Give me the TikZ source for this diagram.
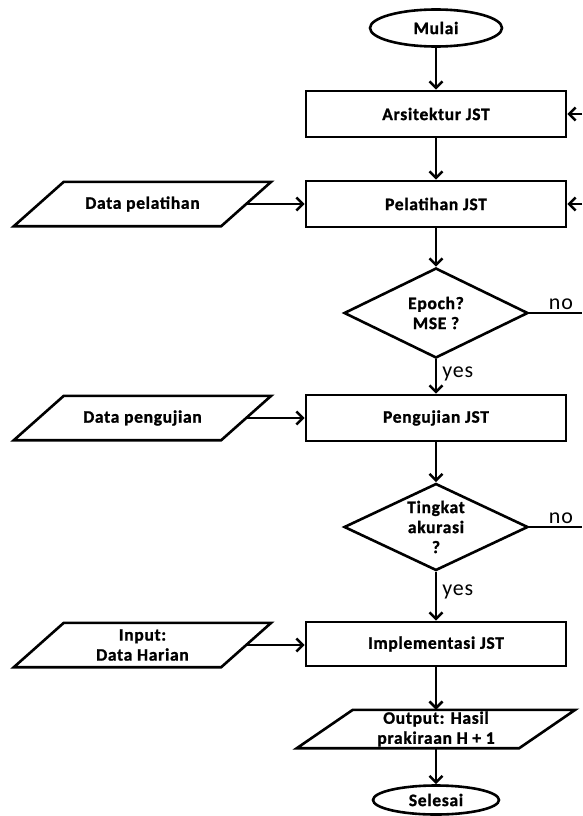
\documentclass[tikz,border=0pt]{standalone}
\usepackage{fontspec}
\setmainfont{Carlito}[LetterSpace=4, BoldFeatures={FakeBold=1.2}]
\usetikzlibrary{arrows.meta,shapes.geometric}
\begin{document}
\begin{tikzpicture}[x=1pt,y=-1pt,
  every node/.style={font=\bfseries\fontsize{17.5}{20}\selectfont, inner sep=0pt, align=center},
  line/.style={line width=2.6pt},
  arr/.style={line width=2.6pt,-{Straight Barb[length=6.5pt,width=13pt]}},
  proc/.style={draw, line width=2.6pt, rectangle, minimum width=260pt, minimum height=46pt},
  term/.style={draw, line width=2.6pt, ellipse, minimum width=132pt, minimum height=37pt},
  dec/.style={draw, line width=2.6pt, diamond, minimum width=184pt, minimum height=90pt},
  io/.style={rectangle, minimum width=207pt, minimum height=44pt},
  lab/.style={font=\fontsize{22}{24}\selectfont, inner sep=2pt}
]
\fill[white] (0,0) rectangle (582,816);
\useasboundingbox (0,0) rectangle (582,816);

\node[term] (start) at (436,28) {Mulai};
\node[proc] (arch) at (436,114) {Arsitektur JST};
\node[proc] (train) at (436,204) {Pelatihan JST};
\node[io] (dtrain) at (142.5,204) {Data pelatihan};
\node[dec, label={[align=center]center:Epoch?\\MSE ?}] (d1) at (436,313) {};
\node[proc] (test) at (436,418) {Pengujian JST};
\node[io] (dtest) at (142.5,418) {Data pengujian};
\node[dec, minimum height=87pt, label={[align=center]center:Tingkat\\akurasi\\?}] (d2) at (436,527) {};
\node[proc, minimum height=44pt] (impl) at (436,644) {Implementasi JST};
\node[io] (din) at (142.5,645) {Input:\\Data Harian};
\node[io, minimum width=222pt, minimum height=38pt] (out) at (436,729) {Output: Hasil\\prakiraan H + 1};
\node[term, minimum width=126pt, minimum height=29pt] (end) at (436,800) {Selesai};

\foreach \n/\s in {dtrain/25, dtest/25, din/25, out/28}
  \draw[line] ([xshift=-\s pt]\n.south west) -- ([xshift=\s pt]\n.north west)
     -- ([xshift=\s pt]\n.north east) -- ([xshift=-\s pt]\n.south east) -- cycle;

\coordinate (r1) at (582,114);
\coordinate (r2) at (582,204);
\coordinate (n1) at (582,313);
\coordinate (n2) at (582,527);

\draw[arr] (start) -- (arch);
\draw[arr] (arch) -- (train);
\draw[arr] (dtrain) -- (train);
\draw[arr] (r1) -- (arch.east);
\draw[arr] (r2) -- (train.east);
\draw[arr] (train) -- (d1);
\draw[line] (d1.east) -- node[lab, above, pos=0.6] {no} (n1);
\draw[arr] (d1) -- node[lab, anchor=west, pos=0.42, xshift=3pt] {yes} (test);
\draw[arr] (dtest) -- (test);
\draw[arr] (test) -- (d2);
\draw[line] (d2.east) -- node[lab, above, pos=0.6] {no} (n2);
\draw[arr] (d2) -- node[lab, anchor=west, pos=0.42, xshift=3pt] {yes} (impl);
\draw[arr] (din.east) -- (din.east -| impl.west);
\draw[arr] (impl) -- (out);
\draw[arr] (out) -- (end);
\end{tikzpicture}
\end{document}
